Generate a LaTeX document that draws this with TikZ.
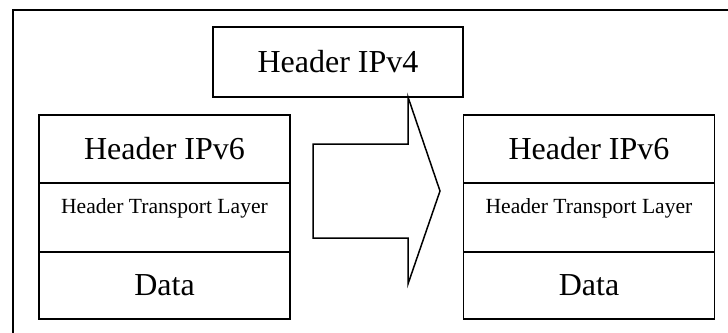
\documentclass[tikz,border=0pt]{standalone}
\usepackage{fontspec}
\setmainfont{Liberation Serif}
\begin{document}
\begin{tikzpicture}[x=1pt,y=-1pt,
  cell/.style={draw,line width=1.5pt,minimum width=251pt,inner sep=0pt,outer sep=0pt},
  big/.style={font=\fontsize{32}{32}\selectfont},
  small/.style={font=\fontsize{21.6}{21.6}\selectfont}]
\useasboundingbox (0,0) rectangle (728,332);
\clip (0,0) rectangle (728,332);
% outer frame
\draw[line width=2.2pt] (13,10) rectangle (760,360);

% IPv4 header
\node[cell,big,minimum width=250pt,minimum height=70pt] (v4) at (338,62) {Header IPv4};

% left packet
\node[cell,big,minimum height=68pt] (lh) at (164.5,149) {Header IPv6};
\node[cell,minimum height=69pt] (lt) at (164.5,217.5) {};
\node[small] (ltt) at ([yshift=9pt]lt.center) {Header Transport Layer};
\node[cell,big,minimum height=67pt] (ld) at (164.5,285.5) {Data};

% right packet
\node[cell,big,minimum height=68pt] (rh) at (589,149) {Header IPv6};
\node[cell,minimum height=69pt] (rt) at (589,217.5) {};
\node[small] (rtt) at ([yshift=9pt]rt.center) {Header Transport Layer};
\node[cell,big,minimum height=67pt] (rd) at (589,285.5) {Data};

% block arrow
\draw[line width=1.5pt,line join=miter]
  (313,144) -- (408,144) -- (408,97) -- (440,191) -- (408,284) -- (408,238) -- (313,238) -- cycle;
\end{tikzpicture}
\end{document}
